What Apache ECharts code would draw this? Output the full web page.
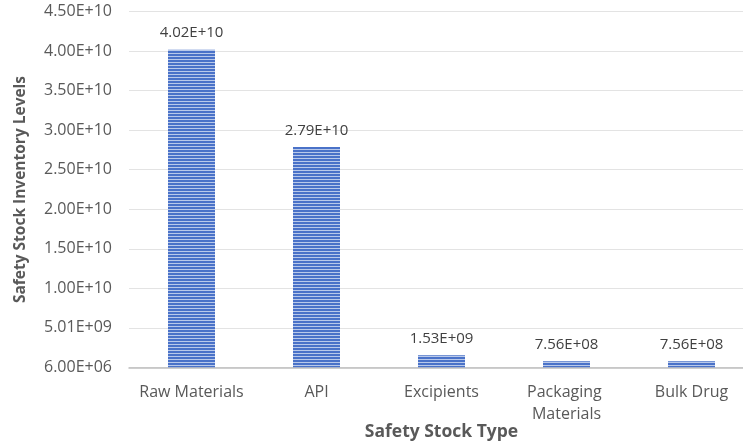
<!DOCTYPE html>
<html>
<head>
<meta charset="utf-8">
<script src="https://cdn.jsdelivr.net/npm/echarts@6/dist/echarts.min.js"></script>
<style>
  html, body { margin: 0; padding: 0; background: #fff; }
  #chart { width: 743px; height: 446px; }
</style>
</head>
<body>
<div id="chart"></div>
<script>
// Safety stock levels per stock type
const categories = ['Raw Materials', 'API', 'Excipients', 'Packaging Materials', 'Bulk Drug'];
const stockLevels = [4.02e10, 2.79e10, 1.53e9, 7.56e8, 7.56e8];

// Value axis starts at 6.00E+06 and steps by 5E+09
const yMin = 6e6;
const yTicks = [6e6, 5.006e9, 1.0006e10, 1.5006e10, 2.0006e10, 2.5006e10, 3.0006e10, 3.5006e10, 4.0006e10, 4.5006e10];
const yMax = yTicks[yTicks.length - 1];

// Scientific notation like 4.02E+10 / 6.00E+06
function sci(v) {
  const parts = Number(v).toExponential(2).split('e');
  const sign = parts[1][0];
  let exp = parts[1].slice(1);
  if (exp.length < 2) exp = '0' + exp;
  return parts[0] + 'E' + sign + exp;
}

// Horizontal stripe fill for the bars
function stripePattern() {
  const c = document.createElement('canvas');
  c.width = 4;
  c.height = 3;
  const ctx = c.getContext('2d');
  ctx.fillStyle = '#4a72c8';
  ctx.fillRect(0, 0, 4, 2);
  ctx.fillStyle = '#b9c9ea';
  ctx.fillRect(0, 2, 4, 1);
  return c;
}

const font = '"Open Sans", "Liberation Sans", sans-serif';
const chart = echarts.init(document.getElementById('chart'), null, { renderer: 'canvas' });

chart.setOption({
  animation: false,
  backgroundColor: '#ffffff',
  grid: {
    left: 129, right: -11, top: 11.7, bottom: 78.7,
    containLabel: false, outerBoundsMode: 'none'
  },
  xAxis: {
    type: 'category',
    data: categories,
    name: 'Safety Stock Type',
    nameLocation: 'middle',
    nameGap: 56,
    nameMoveOverlap: false,
    nameTextStyle: { fontFamily: font, fontSize: 17.5, fontWeight: 'bold', color: '#595959' },
    axisLine: { lineStyle: { color: '#bfbfbf', width: 1.5 } },
    axisTick: { show: false },
    axisLabel: {
      fontFamily: font, fontSize: 16, color: '#595959', margin: 14,
      width: 120, overflow: 'break', lineHeight: 22, interval: 0
    }
  },
  yAxis: {
    type: 'value',
    min: yMin,
    max: yMax,
    name: 'Safety Stock Inventory Levels',
    nameLocation: 'middle',
    nameGap: 100,
    nameMoveOverlap: false,
    nameTextStyle: { fontFamily: font, fontSize: 15.5, fontWeight: 'bold', color: '#595959' },
    axisLine: { show: false },
    axisTick: { show: false, customValues: yTicks },
    axisLabel: {
      customValues: yTicks,
      fontFamily: font, fontSize: 16, color: '#595959', margin: 17,
      formatter: (v) => sci(v)
    },
    splitLine: { show: true, lineStyle: { color: '#e3e3e3', width: 1.2 } }
  },
  series: [{
    type: 'bar',
    data: stockLevels,
    barWidth: 47,
    itemStyle: {
      color: { image: stripePattern(), repeat: 'repeat' }
    },
    label: {
      show: true,
      position: 'top',
      distance: 9,
      fontFamily: font,
      fontSize: 15,
      color: '#404040',
      formatter: (p) => sci(p.value)
    }
  }]
});
</script>
</body>
</html>
